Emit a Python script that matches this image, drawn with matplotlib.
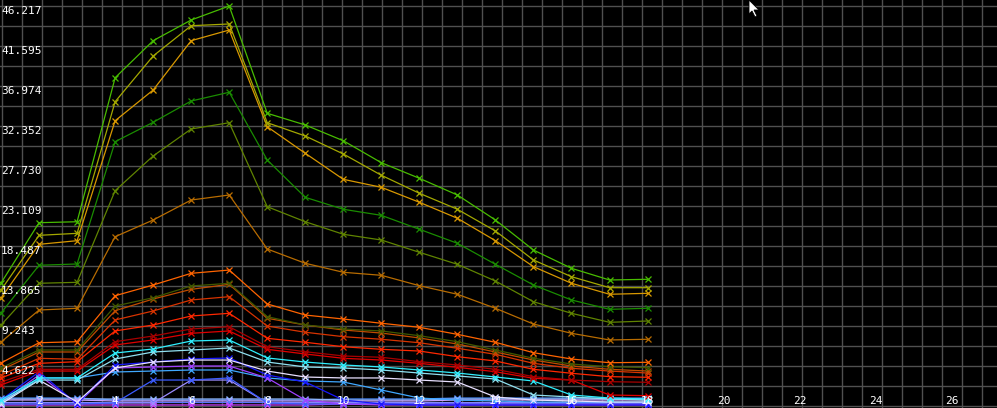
import matplotlib
matplotlib.use("Agg")
import matplotlib.pyplot as plt
from matplotlib.patches import Polygon
import numpy as np

# ---- data ----
x_vals = list(range(1, 19))

s_green = [14.21, 21.18, 21.29, 37.93, 42.21, 44.60, 46.22, 33.82, 32.47, 30.65, 28.11, 26.31, 24.38, 21.49, 18.02, 15.91, 14.56, 14.64]
s_yellow = [13.40, 19.72, 19.95, 35.16, 40.44, 43.94, 44.14, 32.73, 31.20, 29.12, 26.66, 24.58, 22.73, 20.22, 16.87, 14.94, 13.67, 13.67]
s_gold = [12.48, 18.68, 19.10, 32.96, 36.51, 42.21, 43.44, 32.27, 29.20, 26.19, 25.27, 23.54, 21.69, 19.10, 16.10, 14.18, 12.91, 13.02]
s_dkgreen = [10.75, 16.26, 16.41, 30.54, 32.78, 35.24, 36.25, 28.42, 24.11, 22.73, 22.03, 20.42, 18.80, 16.37, 13.98, 12.25, 11.17, 11.29]
s_olive = [9.36, 14.18, 14.29, 24.88, 28.89, 32.01, 32.73, 23.03, 21.29, 19.84, 19.18, 17.76, 16.37, 14.44, 12.05, 10.71, 9.67, 9.82]
s_brown = [7.39, 11.09, 11.29, 19.56, 21.49, 23.80, 24.38, 18.14, 16.49, 15.45, 15.10, 13.90, 12.91, 11.29, 9.47, 8.40, 7.63, 7.71]
s_orange = [4.97, 7.31, 7.43, 12.74, 13.98, 15.33, 15.71, 11.79, 10.51, 10.05, 9.56, 9.09, 8.28, 7.36, 6.16, 5.43, 5.00, 5.05]
s_dkolive = [4.39, 6.47, 6.47, 11.55, 12.51, 13.87, 14.18, 10.32, 9.36, 8.90, 8.67, 8.12, 7.43, 6.47, 5.51, 4.85, 4.54, 4.43]
s_rust = [4.16, 6.24, 6.24, 11.01, 12.36, 13.48, 14.06, 10.13, 9.36, 8.78, 8.43, 7.86, 7.16, 6.24, 5.31, 4.62, 4.24, 4.04]
s_orred = [3.58, 5.51, 5.40, 9.94, 10.98, 12.25, 12.63, 9.24, 8.52, 8.01, 7.71, 7.31, 6.67, 5.97, 4.93, 4.36, 4.04, 3.81]
s_red = [3.24, 4.93, 5.12, 8.67, 9.36, 10.40, 10.71, 7.82, 7.36, 6.85, 6.55, 6.35, 5.70, 5.20, 4.24, 3.78, 3.39, 3.32]
s_dkred = [2.77, 4.24, 4.24, 7.43, 8.09, 8.90, 9.16, 6.85, 6.27, 5.78, 5.63, 5.12, 4.74, 4.24, 3.39, 3.00, 2.81, 2.74]
s_red2 = [2.43, 4.04, 4.04, 7.05, 7.63, 8.40, 8.67, 6.55, 6.01, 5.51, 5.31, 4.93, 4.47, 3.96, 3.20, 3.00, 1.27, 1.19]
s_cyan = [0.69, 3.24, 3.24, 6.12, 6.59, 7.51, 7.63, 5.55, 5.08, 4.74, 4.51, 4.16, 3.81, 3.35, 2.89, 1.27, 0.92, 0.81]
s_ltcyan = [0.46, 3.00, 3.00, 5.43, 6.24, 6.47, 6.70, 5.08, 4.51, 4.39, 4.16, 3.81, 3.47, 3.12, 1.27, 1.04, 0.81, 0.69]
s_white = [0.23, 3.00, 0.46, 4.39, 5.08, 5.31, 5.31, 4.04, 3.35, 3.24, 3.24, 3.00, 2.77, 1.04, 0.69, 0.58, 0.46, 0.46]
s_blue = [0.69, 3.93, 0.23, 4.74, 5.08, 5.43, 5.55, 3.58, 2.77, 0.69, 0.23, 0.12, 0.12, 0.12, 0.12, 0.12, 0.12, 0.12]
s_purple = [0.46, 3.58, 0.23, 4.39, 4.51, 4.62, 4.62, 3.24, 0.69, 0.23, 0.12, 0.12, 0.12, 0.12, 0.12, 0.12, 0.12, 0.12]
s_sky = [0.35, 3.24, 3.24, 3.93, 4.04, 4.16, 4.16, 3.24, 2.89, 2.77, 1.85, 0.92, 0.69, 0.58, 0.46, 0.46, 0.46, 0.46]
s_blue2 = [0.23, 0.23, 0.23, 0.35, 3.00, 3.00, 3.24, 0.35, 0.23, 0.23, 0.23, 0.23, 0.23, 0.23, 0.23, 0.23, 0.23, 0.23]
s_lav = [0.35, 0.35, 0.35, 0.35, 0.35, 3.00, 3.00, 0.35, 0.35, 0.35, 0.35, 0.35, 0.35, 0.35, 0.35, 0.35, 0.35, 0.35]
s_low1 = [0.92, 0.92, 0.92, 0.69, 0.69, 0.69, 0.69, 0.69, 0.69, 0.81, 0.81, 0.81, 0.92, 0.92, 0.92, 0.92, 0.92, 0.92]
s_low2 = [0.69, 0.69, 0.69, 0.58, 0.58, 0.58, 0.58, 0.58, 0.58, 0.58, 0.58, 0.58, 0.69, 0.69, 0.69, 0.69, 0.69, 0.69]
s_low3 = [0.12, 0.12, 0.12, 0.12, 0.12, 0.12, 0.12, 0.12, 0.12, 0.23, 0.23, 0.23, 0.23, 0.23, 0.23, 0.23, 0.23, 0.23]
s_low4 = [0.46, 0.46, 0.46, 0.46, 0.46, 0.46, 0.46, 0.46, 0.46, 0.46, 0.46, 0.46, 0.46, 0.46, 0.46, 0.46, 0.46, 0.46]
s_low5 = [0.81, 0.81, 0.81, 0.81, 0.81, 0.81, 0.81, 0.81, 0.81, 0.69, 0.69, 0.69, 0.81, 0.81, 0.81, 0.81, 0.81, 0.81]

series = [
    (s_low1, "#4a8cff"), (s_low5, "#90b8ff"), (s_low2, "#c8a0ff"),
    (s_low4, "#5a78ff"), (s_low3, "#d040ff"),
    (s_lav, "#9c8cff"), (s_blue2, "#3c5cff"), (s_sky, "#40a8ff"),
    (s_purple, "#a040ff"), (s_blue, "#1818ff"), (s_white, "#e8e0ff"),
    (s_ltcyan, "#90e0f0"), (s_cyan, "#30f0ff"),
    (s_red2, "#e00000"), (s_dkred, "#a80000"), (s_red, "#ff2800"),
    (s_orred, "#d83400"), (s_rust, "#c04c00"), (s_dkolive, "#405800"),
    (s_orange, "#ff6400"), (s_brown, "#b86c00"), (s_olive, "#608400"),
    (s_dkgreen, "#1a8c00"), (s_gold, "#d89800"), (s_yellow, "#a4a800"),
    (s_green, "#48bc00"),
]

y_tick_vals = [4.6217, 9.2434, 13.8651, 18.4868, 23.1085, 27.7302, 32.3519, 36.9736, 41.5953, 46.217]
y_tick_labels = ["4.622", "9.243", "13.865", "18.487", "23.109", "27.730",
                 "32.352", "36.974", "41.595", "46.217"]
x_tick_vals = list(range(2, 28, 2))

# ---- pixel geometry of the original canvas ----
W, H = 997, 408
px_per_x = 38.03
x0_px = -37.0           # pixel column of x = 0
y0_px = 406.0           # pixel row of y = 0
px_per_y = 400.0 / 46.217

def xpx(c):
    return (c - x0_px) / px_per_x

def ypx(r):
    return (y0_px - r) / px_per_y

fig = plt.figure(figsize=(W / 100, H / 100), dpi=100)
fig.patch.set_facecolor("#000000")
ax = fig.add_axes([0, 0, 1, 1])
ax.set_facecolor("#000000")
ax.set_xlim(xpx(0), xpx(W))
ax.set_ylim(ypx(H), ypx(0))
for s in ax.spines.values():
    s.set_visible(False)
ax.set_xticks([])
ax.set_yticks([])

# pixel grid (every 20 px)
for c in np.arange(1.5, W, 20):
    ax.axvline(xpx(c), color="#505050", lw=1.0, zorder=0)
for r in np.arange(6, H, 20):
    ax.axhline(ypx(r), color="#505050", lw=1.0, zorder=0)

for vals, col in series:
    ax.plot(x_vals, vals, color=col, lw=0.9, marker="x", ms=4, mew=0.9, zorder=3)

for v, lab in zip(y_tick_vals, y_tick_labels):
    ax.text(xpx(1), v - 0.05, lab, color="white", fontsize=8,
            family="DejaVu Sans Mono", ha="left", va="top", zorder=5)

for v in x_tick_vals:
    ax.text(v, ypx(406.5), str(v), color="white", fontsize=8,
            family="DejaVu Sans Mono", ha="center", va="bottom", zorder=5)

# mouse cursor seen in the screenshot
cur = np.array([[749, 0], [749, 14], [752, 11], [755, 17], [757, 16], [754, 10], [759, 10]], dtype=float)
cur_fig = np.column_stack([cur[:, 0] / W, 1 - cur[:, 1] / H])
fig.patches.append(Polygon(cur_fig, closed=True, transform=fig.transFigure,
                           facecolor="white", edgecolor="black", lw=0.6, zorder=10))

fig.savefig("out.png", dpi=100, facecolor=fig.get_facecolor())
